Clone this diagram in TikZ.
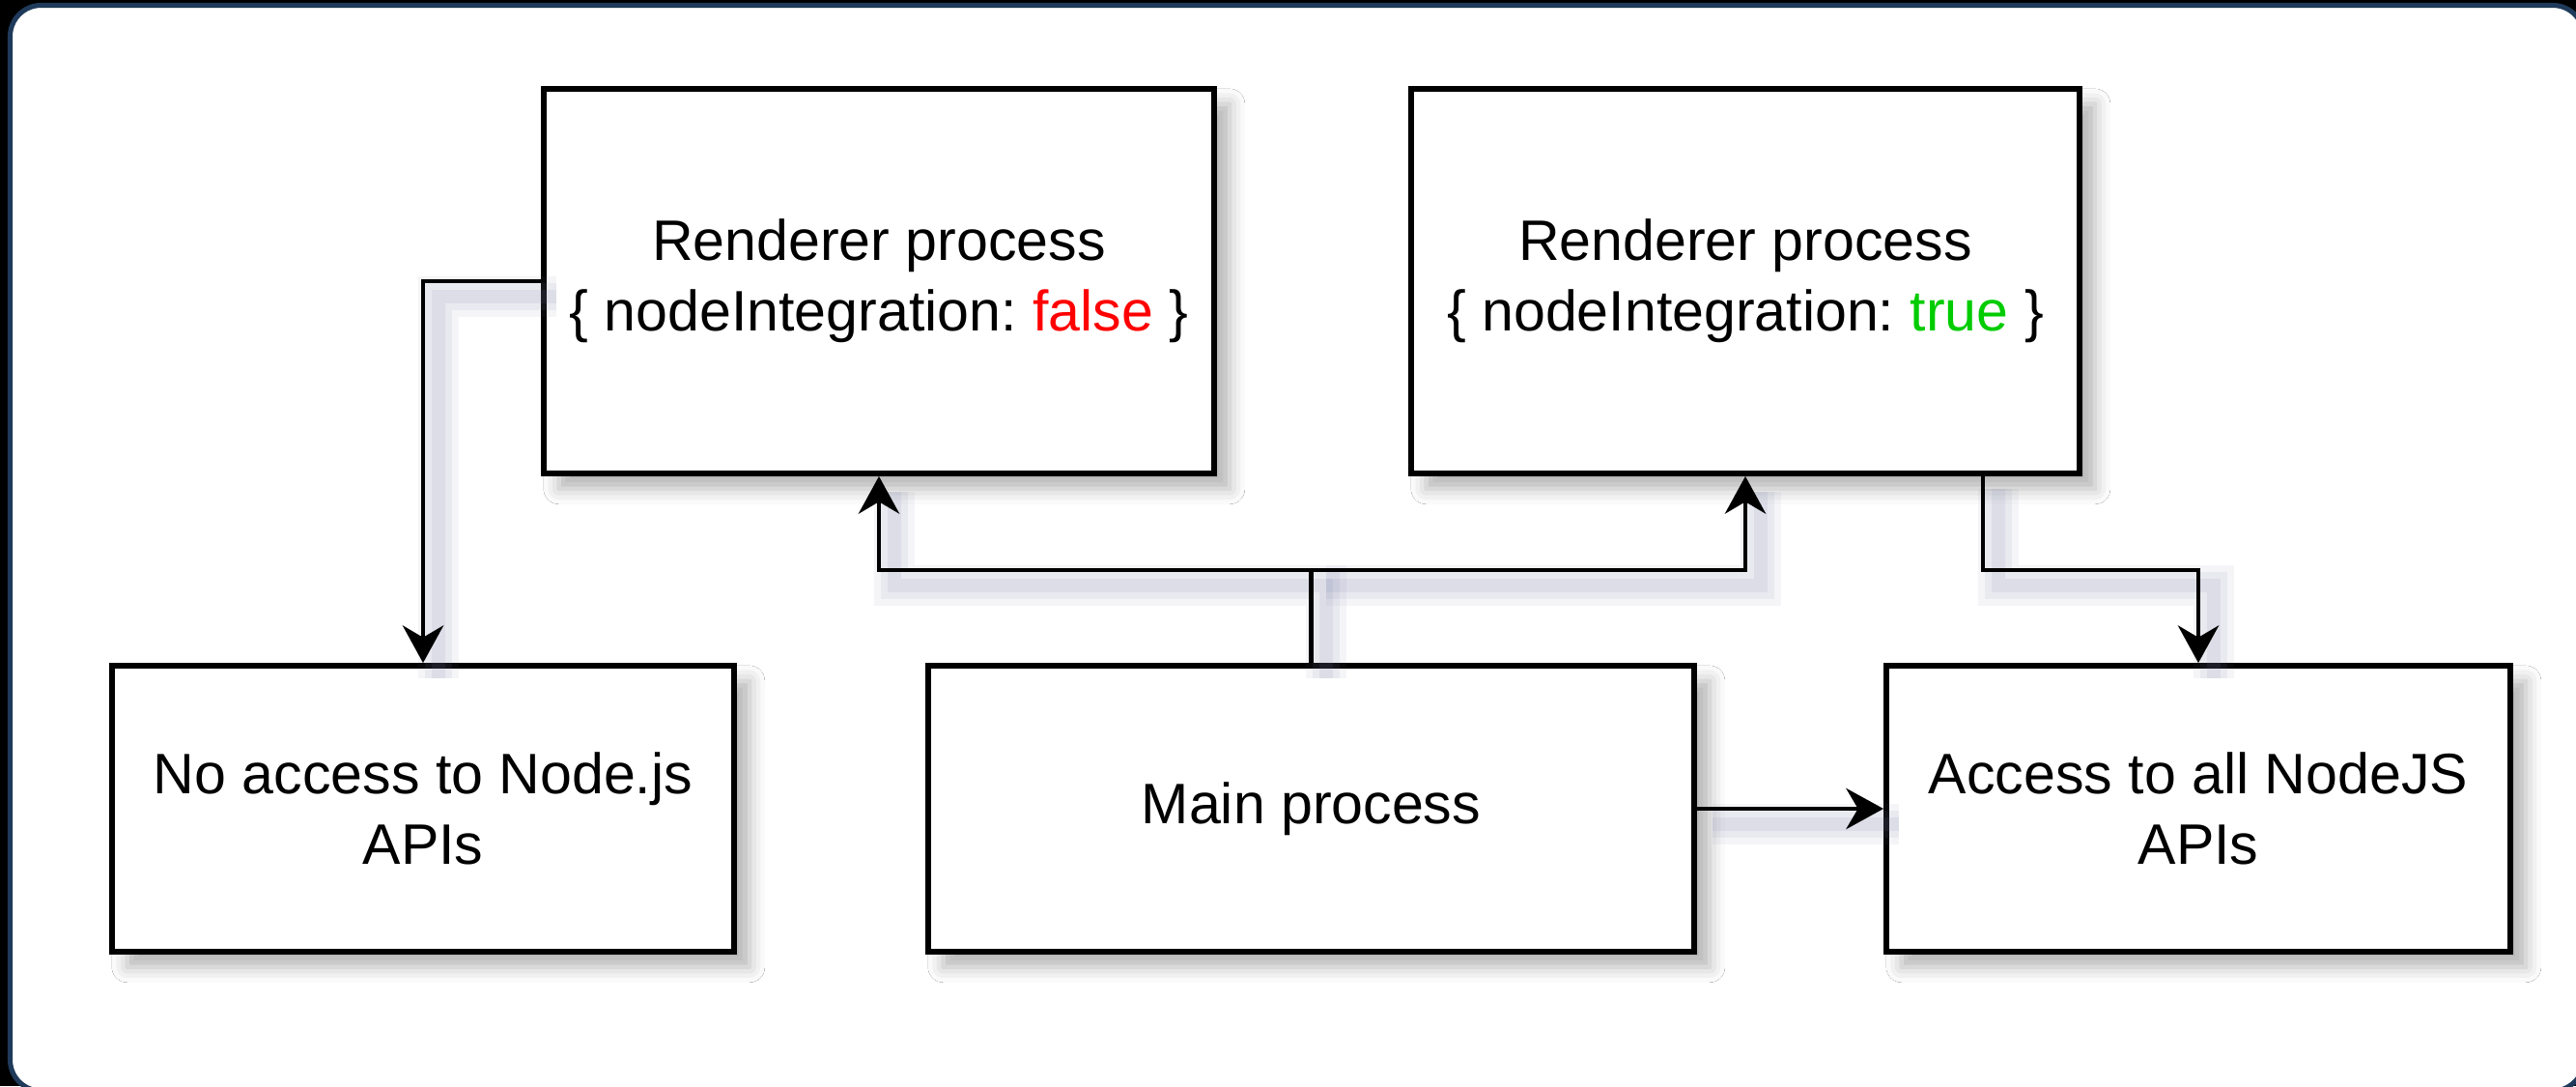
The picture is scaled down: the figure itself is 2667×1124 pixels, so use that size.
\documentclass[tikz,border=0pt]{standalone}
\usepackage{fontspec}
\setmainfont{Liberation Sans}
\usetikzlibrary{arrows.meta,shadows.blur}

\begin{document}
\begin{tikzpicture}[x=0.01cm, y=-0.01cm,
  box/.style={draw, line width=1.6pt, fill=white, inner sep=0pt, align=center,
    font=\fontsize{16.8pt}{20.8pt}\selectfont\frenchspacing,
    blur shadow={shadow xshift=4.5pt, shadow yshift=-4.5pt, shadow blur radius=4.5pt, shadow opacity=30}},
  wire/.style={line width=1.4pt, -{Stealth[length=11pt, width=12pt, inset=3.5pt]},
    preaction={draw=c_shadow, -, line width=12pt, opacity=0.07, transform canvas={shift={(4.5pt,-4.5pt)}}},
    preaction={draw=c_shadow, -, line width=8pt, opacity=0.09, transform canvas={shift={(4.5pt,-4.5pt)}}},
    preaction={draw=c_shadow, -, line width=4pt, opacity=0.11, transform canvas={shift={(4.5pt,-4.5pt)}}}}]

\definecolor{c_frame}{RGB}{31,58,90}
\definecolor{c_shadow}{RGB}{120,124,166}
\definecolor{c_false}{RGB}{255,0,0}
\definecolor{c_true}{RGB}{0,204,0}

\useasboundingbox (0,0) rectangle (2667,1124);

% Frame
\fill[black] (0,0) rectangle (2667,1124);
\begin{scope}
  \clip (0,0) rectangle (2667,1124);
  \draw[draw=c_frame, line width=1.45pt, fill=white, rounded corners=0.32cm] (10.5,5.5) rectangle (2675,1129);
\end{scope}

% Renderer processes
\node (rendF) at (910, 291) [box, minimum width=6.94cm, minimum height=3.98cm]
  {Renderer process\\\{ nodeIntegration: \textcolor{c_false}{false} \}};
\node (rendT) at (1807, 291) [box, minimum width=6.92cm, minimum height=3.98cm]
  {Renderer process\\\{ nodeIntegration: \textcolor{c_true}{true} \}};

% Bottom row
\node (noAccess) at (438, 837) [box, minimum width=6.44cm, minimum height=2.96cm]
  {No access to Node.js\\APIs};
\node (mainProc) at (1357.5, 837) [box, minimum width=7.93cm, minimum height=2.96cm]
  {Main process};
\node (access) at (2276, 837) [box, minimum width=6.46cm, minimum height=2.96cm]
  {Access to all NodeJS\\APIs};

% Connectors
\coordinate (split) at (mainProc.north |- 0,590);
\coordinate (exitT) at (2053, 490);

\draw[wire] (rendF.west) -| (noAccess.north);
\draw[wire] (mainProc.north) -- (split) -| (rendF.south);
\draw[wire] (split) -| (rendT.south);
\draw[wire] (exitT) |- (access.north |- split) -- (access.north);
\draw[wire] (mainProc.east) -- (access.west);

\end{tikzpicture}
\end{document}
